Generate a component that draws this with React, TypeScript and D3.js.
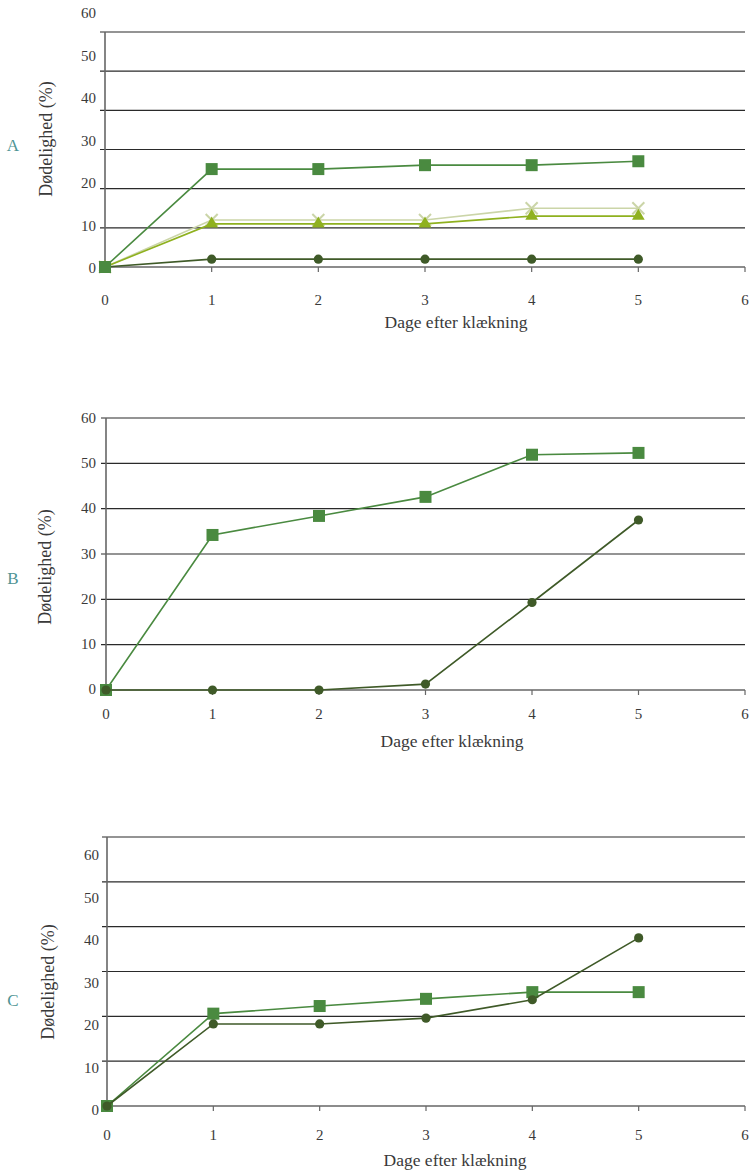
import React from "react"
import * as d3 from "d3"

// days after hatching
const days = [0, 1, 2, 3, 4, 5]
const xTicks = [0, 1, 2, 3, 4, 5, 6]
const yTicks = [0, 10, 20, 30, 40, 50, 60]

// panel A
const aSquare = [0, 25, 25, 26, 26, 27]
const aCross = [0, 12, 12, 12, 15, 15]
const aTriangle = [0, 11, 11, 11, 13, 13]
const aCircle = [0, 2, 2, 2, 2, 2]

// panel B
const bSquare = [0, 34.2, 38.4, 42.6, 51.9, 52.3]
const bCircle = [0, 0, 0, 1.3, 19.3, 37.5]

// panel C
const cSquare = [0, 20.6, 22.3, 23.9, 25.4, 25.4]
const cCircle = [0, 18.3, 18.3, 19.6, 23.7, 37.5]

const colors = {
  square: "#4a8a40",
  circle: "#3f5a28",
  triangle: "#8fb11f",
  cross: "#cbd5a8",
  grid: "#2a2a2a",
  axis: "#666",
  text: "#3a3a3a",
  letter: "#4f9494",
}

const serif = "'Liberation Serif', 'DejaVu Serif', serif"

type Series = { values: number[]; marker: "square" | "circle" | "triangle" | "cross"; color: string }

type Panel = {
  letter: string
  top: number
  bottom: number
  left: number
  labelX: number
  labelTop: number
  labelBottom: number
  tickLabelY: number
  titleY: number
  titleX: number
  yTitleX: number
  yTitleY: number
  letterY: number
  series: Series[]
}

const panels: Panel[] = [
  {
    letter: "A",
    top: 32,
    bottom: 267,
    left: 105,
    labelX: 96,
    labelTop: 13,
    labelBottom: 268,
    tickLabelY: 300,
    titleY: 322,
    titleX: 456,
    yTitleX: 46,
    yTitleY: 139,
    letterY: 145,
    series: [
      { values: aCircle, marker: "circle", color: colors.circle },
      { values: aCross, marker: "cross", color: colors.cross },
      { values: aTriangle, marker: "triangle", color: colors.triangle },
      { values: aSquare, marker: "square", color: colors.square },
    ],
  },
  {
    letter: "B",
    top: 418,
    bottom: 690,
    left: 106,
    labelX: 96,
    labelTop: 418,
    labelBottom: 689,
    tickLabelY: 714,
    titleY: 741,
    titleX: 452,
    yTitleX: 45,
    yTitleY: 567,
    letterY: 578,
    series: [
      { values: bSquare, marker: "square", color: colors.square },
      { values: bCircle, marker: "circle", color: colors.circle },
    ],
  },
  {
    letter: "C",
    top: 837,
    bottom: 1106,
    left: 107,
    labelX: 99,
    labelTop: 855,
    labelBottom: 1110,
    tickLabelY: 1135,
    titleY: 1160,
    titleX: 455,
    yTitleX: 48,
    yTitleY: 982,
    letterY: 1000,
    series: [
      { values: cSquare, marker: "square", color: colors.square },
      { values: cCircle, marker: "circle", color: colors.circle },
    ],
  },
]

function Marker({ kind, x, y, color }: { kind: Series["marker"]; x: number; y: number; color: string }) {
  if (kind === "square") return <rect x={x - 6} y={y - 6} width={12} height={12} fill={color} />
  if (kind === "circle") return <circle cx={x} cy={y} r={4.6} fill={color} />
  if (kind === "triangle") {
    const tri = d3.symbol(d3.symbolTriangle, 70)()
    return <path d={tri as string} transform={`translate(${x},${y})`} fill={color} />
  }
  return (
    <g stroke={color} strokeWidth={2}>
      <line x1={x - 6} y1={y - 6} x2={x + 6} y2={y + 6} />
      <line x1={x - 6} y1={y + 6} x2={x + 6} y2={y - 6} />
    </g>
  )
}

function PanelChart({ p }: { p: Panel }) {
  const right = 745
  const x = d3.scaleLinear().domain([0, 6]).range([p.left, right])
  const y = d3.scaleLinear().domain([0, 60]).range([p.bottom, p.top])
  const yLabel = d3.scaleLinear().domain([0, 60]).range([p.labelBottom, p.labelTop])
  const line = d3
    .line<number>()
    .x((_, i) => x(days[i]))
    .y((d) => y(d))

  return (
    <g>
      {yTicks.map((t) => (
        <line
          key={"g" + t}
          x1={p.left - 5}
          x2={right}
          y1={y(t)}
          y2={y(t)}
          stroke={t === 0 ? colors.axis : colors.grid}
          strokeWidth={t === 0 ? 1.6 : 1.2}
        />
      ))}
      <line x1={p.left} x2={p.left} y1={p.top} y2={p.bottom} stroke={colors.axis} strokeWidth={1.6} />
      {xTicks.map((t) => (
        <line key={"xt" + t} x1={x(t)} x2={x(t)} y1={p.bottom} y2={p.bottom + 5} stroke={colors.axis} strokeWidth={1.2} />
      ))}
      {yTicks.map((t) => (
        <text
          key={"yl" + t}
          x={p.labelX}
          y={yLabel(t)}
          textAnchor="end"
          dominantBaseline="central"
          fontFamily={serif}
          fontSize={15}
          fill={colors.text}
        >
          {t}
        </text>
      ))}
      {xTicks.map((t) => (
        <text
          key={"xl" + t}
          x={x(t)}
          y={p.tickLabelY}
          textAnchor="middle"
          dominantBaseline="central"
          fontFamily={serif}
          fontSize={15}
          fill={colors.text}
        >
          {t}
        </text>
      ))}
      <text x={p.titleX} y={p.titleY} textAnchor="middle" dominantBaseline="central" fontFamily={serif} fontSize={17.5} fill={colors.text}>
        Dage efter klækning
      </text>
      <text
        transform={`translate(${p.yTitleX},${p.yTitleY}) rotate(-90)`}
        textAnchor="middle"
        dominantBaseline="central"
        fontFamily={serif}
        fontSize={18}
        fill={colors.text}
      >
        Dødelighed (%)
      </text>
      <text x={13} y={p.letterY} textAnchor="middle" dominantBaseline="central" fontFamily={serif} fontSize={17} fill={colors.letter}>
        {p.letter}
      </text>
      {p.series.map((s, si) => (
        <g key={"s" + si}>
          <path d={line(s.values) as string} fill="none" stroke={s.color} strokeWidth={1.6} />
          {s.values.map((v, i) => (
            <Marker key={i} kind={s.marker} x={x(days[i])} y={y(v)} color={s.color} />
          ))}
        </g>
      ))}
    </g>
  )
}

export default function App() {
  return (
    <svg width={752} height={1172} style={{ position: "absolute", left: 0, top: 0, background: "#fff" }}>
      {panels.map((p) => (
        <PanelChart key={p.letter} p={p} />
      ))}
    </svg>
  )
}
